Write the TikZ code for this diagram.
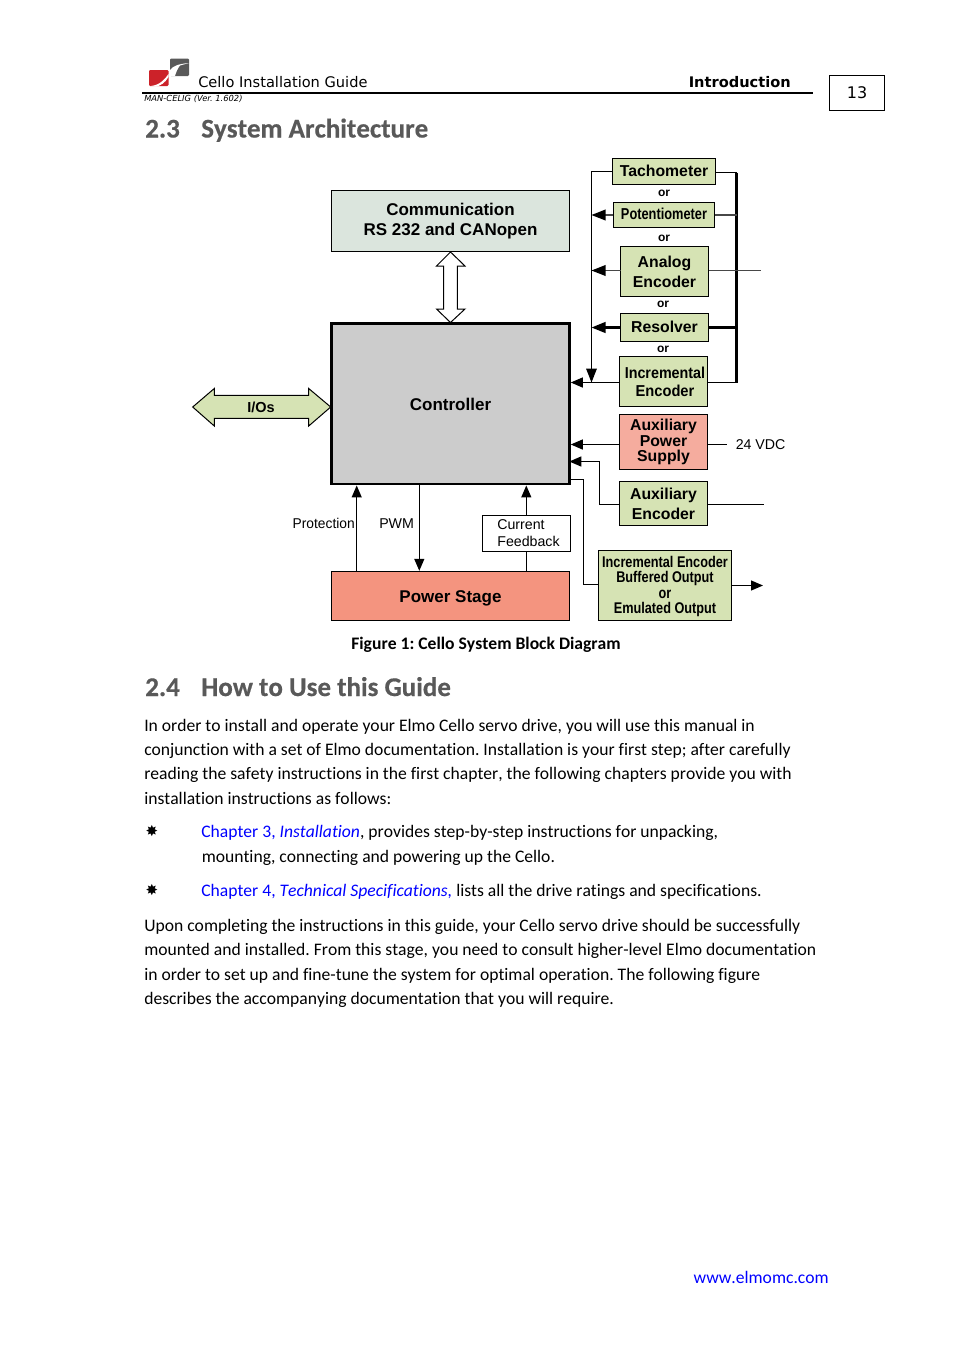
\documentclass[tikz,border=0pt]{standalone}
\usepackage{fontspec}
\usepackage{graphicx}
\usetikzlibrary{arrows.meta}
\setmainfont{Carlito}[Ligatures=NoCommon,Kerning=Off]
\newfontfamily\headf{Carlito}[Ligatures=NoCommon,Kerning=Off,BoldFeatures={FakeBold=0.5}]
\newfontfamily\arial{Liberation Sans}
\newfontfamily\verd{DejaVu Sans}
\definecolor{boxgreen}{HTML}{D6E3B4}
\definecolor{commgreen}{HTML}{DBE5DD}
\definecolor{ctrlgray}{HTML}{CCCCCC}
\definecolor{psred}{HTML}{F4947F}
\definecolor{auxred}{HTML}{F5AC9E}
\definecolor{headgray}{HTML}{595959}
\definecolor{logored}{HTML}{CC2229}
\newcommand{\pxfont}[2]{\fontsize{\dimexpr#1pt*3/4\relax}{\dimexpr#2pt*3/4\relax}\selectfont}
\newcommand{\sq}[2]{\scalebox{#1}[1]{#2}}
\newcommand{\mv}[2]{\raisebox{#1}[\height][\depth]{#2}}
\newcommand{\ib}[1]{\mv{-0.75pt}{\sq{0.82}{#1}}}
\newcommand{\rectnode}[7]{%
  \pgfmathsetmacro\cxx{(#2+#4)/2}\pgfmathsetmacro\cyy{(#3+#5)/2}%
  \node[#6,minimum width={(#4-#2)*0.75pt},minimum height={(#5-#3)*0.75pt},at={(\cxx,\cyy)}] (#1) {#7};}
\newcommand{\bodyline}[4]{\node[bodytext] (#1) at (#2,#3) {#4};}
\frenchspacing
\tikzset{
  x=0.75pt,y=-0.75pt,
  block/.style={draw=black,line width=0.75pt,inner sep=0pt,align=center,font=\arial\bfseries\pxfont{15.8}{20}},
  greenblock/.style={block,fill=boxgreen},
  conn/.style={draw=black,line width=0.9pt},
  thin gray/.style={draw=black!72,line width=1pt},
  arr/.style={-{Triangle[length=9pt,width=7.5pt,color=black,fill=black]}},
  busarr/.style={-{Triangle[length=10.5pt,width=8pt,color=black,fill=black]}},
  orlabel/.style={inner sep=0pt,font=\arial\bfseries\pxfont{12}{14}},
  plainlabel/.style={inner sep=0pt,font=\arial\pxfont{14.2}{17}},
  bodytext/.style={anchor=base west,inner sep=0pt,font=\pxfont{17.6}{20}},
  headingtext/.style={anchor=base west,inner sep=0pt,text=headgray,font=\headf\bfseries\pxfont{27}{28}},
}
\begin{document}
\begin{tikzpicture}
\useasboundingbox (0,0) rectangle (954,1350);
% logo
\fill[logored,rounded corners=0.8pt] (149,70) rectangle (168.5,86);
\fill[white] (151,86) .. controls (160,85) and (165,79) .. (168.5,74) -- (168.5,77) .. controls (165,83) and (160,86) .. (156,86.5) -- cycle;
\fill[black!65,rounded corners=0.8pt] (170,58.5) rectangle (189,76);
\fill[white] (170,70) .. controls (173,66) and (178,64) .. (189,63) -- (180,65.5) .. controls (178,68) and (176,72) .. (175,76) -- (170,76) -- cycle;
% header
\node[anchor=base west,inner sep=0pt,font=\verd\pxfont{14.6}{16}] (hdrtitle) at (198,87) {Cello Installation Guide};
\node[anchor=base east,inner sep=0pt,font=\verd\bfseries\pxfont{14.6}{16}] (hdrintro) at (791,87) {Introduction};
\draw[line width=1.2pt] (142,93) -- (813,93);
\node[anchor=base west,inner sep=0pt,font=\verd\itshape\pxfont{8.35}{10}] (hdrman) at (144,101) {MAN-CELIG (Ver. 1.602)};
\rectnode{pagebox}{829.5}{75.5}{884.5}{110.5}{draw=black,line width=0.75pt,inner sep=0pt,font=\verd\pxfont{16}{18}}{13}
% heading 2.3
\node[headingtext] (h23n) at (145,137.5) {2.3};
\node[headingtext] (h23t) at (201,137.5) {System Architecture};
% diagram
\rectnode{comm}{331.5}{190.5}{569.5}{251.5}{block,fill=commgreen,font=\arial\bfseries\pxfont{17}{20}}{Communication\\RS 232 and CANopen}
\rectnode{ctrl}{331.7}{323.7}{569.3}{484}{block,fill=ctrlgray,line width=2.2pt,font=\arial\bfseries\pxfont{17}{20}}{\mv{-0.75pt}{Controller}}
\rectnode{power}{331.7}{571.3}{569.3}{620.5}{block,fill=psred,font=\arial\bfseries\pxfont{17}{20}}{\mv{-1.5pt}{Power Stage}}
\rectnode{tach}{612.5}{158.5}{715.5}{184.5}{greenblock}{\mv{0.75pt}{Tachometer}}
\rectnode{pot}{613.5}{202.5}{714.5}{227.5}{greenblock}{\mv{0.75pt}{\sq{0.81}{Potentiometer}}}
\rectnode{analog}{620.5}{246.5}{708.5}{296.5}{greenblock}{Analog\\Encoder}
\rectnode{resolver}{620.5}{313.5}{708.5}{341.5}{greenblock}{\mv{0.75pt}{Resolver}}
\rectnode{incr}{619.5}{356.5}{707.5}{406.5}{greenblock,font=\arial\bfseries\pxfont{15.8}{18}}{\hspace*{2.2pt}\sq{0.906}{Incremental}\\\hspace*{2.2pt}\sq{0.93}{Encoder}}
\rectnode{auxp}{619.5}{414.5}{707.5}{469.5}{block,font=\arial\bfseries\pxfont{15.8}{15.5},fill=auxred}{Auxiliary\\Power\\Supply}
\rectnode{auxe}{619.5}{481.5}{707.5}{525.5}{greenblock}{Auxiliary\\Encoder}
\rectnode{incbuf}{598.5}{550.5}{731.5}{620.5}{greenblock,font=\arial\bfseries\pxfont{15.5}{15.5}}{\ib{Incremental Encoder}\\\ib{Buffered Output}\\\ib{or}\\\ib{Emulated Output}}
\rectnode{curfb}{482.5}{515.5}{570.5}{551.5}{draw=black,line width=0.75pt,fill=white,inner sep=0pt,align=left,font=\arial\pxfont{14.2}{17}}{\hspace*{3pt}Current\\\hspace*{3pt}Feedback}
\node[orlabel] (or1) at (664,193) {or};
\node[orlabel] (or2) at (664,238) {or};
\node[orlabel] (or3) at (663,304) {or};
\node[orlabel] (or4) at (663,349) {or};
\node[plainlabel,anchor=base east] (protlbl) at (355,528) {\sq{0.97}{Protection}};
\node[plainlabel,anchor=base west] (pwmlbl) at (379,528) {PWM};
\node[plainlabel,anchor=base west] (vdclbl) at (735.5,449) {24 VDC};
% bus coordinates
\coordinate (lbus) at (591.5,171.5);
\coordinate (rbustop) at (736.5,172.5);
\coordinate (rbusbot) at (736.5,382.5);
\coordinate (analogl) at (620.5,270.5);
\coordinate (analogr) at (760.5,270.5);
\coordinate (incrl) at (619.5,382.5);
\coordinate (auxpl) at (619.5,444.5);
\coordinate (auxpr) at (726.5,444.5);
\coordinate (auxel) at (619.5,504.5);
\coordinate (auxer) at (763.5,504.5);
\coordinate (auxein) at (569.3,461.5);
\coordinate (incbufl) at (598.5,584.5);
\coordinate (incbufr) at (731.5,585.5);
\coordinate (incbufend) at (763,585.5);
\coordinate (ctrlout) at (569.3,479.7);
\coordinate (protx) at (356.7,0);
\coordinate (pwmx) at (419.3,0);
\coordinate (curx) at (526.3,0);
% left bus
\draw[conn,busarr] (tach.west |- lbus) -- (lbus) -- (lbus |- incrl);
\draw[thin gray,busarr] (pot.west) -- (lbus |- pot.west);
\draw[thin gray,busarr] (analogl) -- (lbus |- analogl);
\draw[conn,line width=1.6pt,busarr] (resolver.west) -- (lbus |- resolver.west);
\draw[conn,arr] (incrl) -- (ctrl.east |- incrl);
% right bus
\draw[conn] (tach.east |- rbustop) -- (rbustop);
\draw[line width=1.6pt] (rbustop) -- (rbusbot);
\draw[conn] (rbusbot) -- (incr.east |- rbusbot);
\draw[thin gray] (pot.east) -- (rbustop |- pot.east);
\draw[thin gray] (analog.east |- analogr) -- (analogr);
\draw[conn,line width=1.6pt] (resolver.east) -- (rbustop |- resolver.east);
% aux
\draw[conn,arr] (auxpl) -- (ctrl.east |- auxpl);
\draw[conn] (auxp.east |- auxpr) -- (auxpr);
\draw[conn,arr] (auxel) -- (599.5,504.5) |- (auxein);
\draw[conn] (auxe.east |- auxer) -- (auxer);
\draw[conn] (ctrlout) -- (583.5,479.7) |- (incbufl);
\draw[conn,arr] (incbufr) -- (incbufend);
% controller to power stage
\draw[conn,arr] (power.north -| protx) -- (ctrl.south -| protx);
\draw[conn,arr] (ctrl.south -| pwmx) -- (power.north -| pwmx);
\draw[conn] (power.north -| curx) -- (curfb.south -| curx);
\draw[conn,arr] (curfb.north -| curx) -- (ctrl.south -| curx);
% fat double arrows
\draw[line width=0.75pt,fill=white] (450.5,252) -- (465,266) -- (457.3,266) -- (457.3,309) -- (465,309) -- (450.5,322.5) -- (436.5,309) -- (443.7,309) -- (443.7,266) -- (436.5,266) -- cycle;
\draw[line width=0.75pt,fill=boxgreen] (192.7,407) -- (214.3,388.5) -- (214.3,395.3) -- (308.7,395.3) -- (308.7,388.5) -- (330.7,407) -- (308.7,426) -- (308.7,418.3) -- (214.3,418.3) -- (214.3,426) -- cycle;
\node[inner sep=0pt,font=\arial\bfseries\pxfont{14.5}{16}] (ios) at (261,407) {I/Os};
% caption
\node[anchor=base,inner sep=0pt,font=\bfseries\pxfont{17.6}{20}] (caption) at (486,649) {Figure 1: Cello System Block Diagram};
% heading 2.4
\node[headingtext] (h24n) at (145,696) {2.4};
\node[headingtext] (h24t) at (201,696) {How to Use this Guide};
% body
\bodyline{l1}{144}{731}{In order to install and operate your Elmo Cello servo drive, you will use this manual in}
\bodyline{l2}{144}{755}{conjunction with a set of Elmo documentation. Installation is your first step; after carefully}
\bodyline{l3}{144}{779}{reading the safety instructions in the first chapter, the following chapters provide you with}
\bodyline{l4}{144}{804}{installation instructions as follows:}
\node[inner sep=0pt,font=\verd\pxfont{15}{16}] (b1) at (152,831) {✸};
\bodyline{l5}{201}{837}{\textcolor{blue}{Chapter 3, \textit{Installation}}, provides step-by-step instructions for unpacking,}
\bodyline{l6}{201.5}{862}{mounting, connecting and powering up the Cello.}
\node[inner sep=0pt,font=\verd\pxfont{15}{16}] (b2) at (152,890) {✸};
\bodyline{l7}{201}{896}{\textcolor{blue}{Chapter 4, \textit{Technical Specifications,}} lists all the drive ratings and specifications.}
\bodyline{l8}{144}{931}{Upon completing the instructions in this guide, your Cello servo drive should be successfully}
\bodyline{l9}{144}{955}{mounted and installed. From this stage, you need to consult higher-level Elmo documentation}
\bodyline{l10}{144}{980}{in order to set up and fine-tune the system for optimal operation. The following figure}
\bodyline{l11}{144}{1004}{describes the accompanying documentation that you will require.}
\node[anchor=base east,inner sep=0pt,text=blue,font=\pxfont{17.6}{20}] (url) at (829,1283) {www.elmomc.com};
\end{tikzpicture}
\end{document}
